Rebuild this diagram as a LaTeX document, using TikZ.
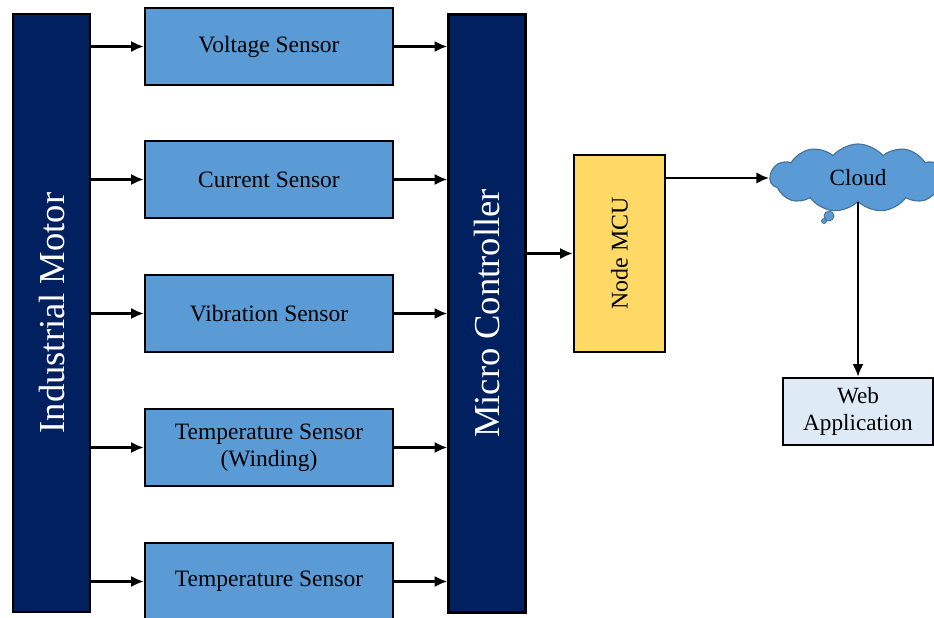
\documentclass[tikz,border=0pt]{standalone}
\usepackage{fontspec}
\setmainfont{Liberation Serif}
\usetikzlibrary{shapes.symbols,arrows.meta}

\definecolor{navy}{HTML}{002060}
\definecolor{sensorblue}{HTML}{5B9BD5}
\definecolor{cloudedge}{HTML}{41719C}
\definecolor{mcuyellow}{HTML}{FFD966}
\definecolor{webblue}{HTML}{DEEBF7}

\tikzset{
  bigbar/.style={draw=black, line width=1.8pt, fill=navy, text=white, rotate=90,
    minimum width=14.95cm, minimum height=1.925cm, font=\fontsize{26}{30}\selectfont},
  sensor/.style={draw=black, line width=1.8pt, fill=sensorblue, align=center,
    minimum width=6.2cm, minimum height=1.925cm, font=\fontsize{16.7}{19}\selectfont},
  link/.style={->, line width=1.6pt, >={Latex[length=9pt,width=8pt]}}
}

\begin{document}
\begin{tikzpicture}[x=0.025cm, y=-0.025cm]
\useasboundingbox (0,0) rectangle (934,618);
\node[bigbar] (motor) at (51.5, 313) {Industrial Motor};
\node[bigbar] (mc) at (487, 313.5) {Micro Controller};

\node[sensor] (volt) at (269, 46.5) {Voltage Sensor};
\node[sensor] (curr) at (269, 179.5) {Current Sensor};
\node[sensor] (vib) at (269, 313.5) {Vibration Sensor};
\node[sensor] (tempw) at (269, 447.5) {Temperature Sensor\\(Winding)};
\node[sensor] (temp) at (269, 581.5) {Temperature Sensor};

\node[draw=black, line width=1.8pt, fill=mcuyellow, rotate=90, minimum width=4.925cm,
  minimum height=2.275cm, font=\fontsize{17}{19}\selectfont] (nodemcu) at (619.5, 253.5) {Node MCU};
\node[cloud, cloud puffs=11, cloud puff arc=100, cloud ignores aspect, draw=cloudedge, line width=0.8pt,
  fill=sensorblue, minimum width=4.4cm, minimum height=1.7cm,
  font=\fontsize{16.5}{19}\selectfont] (cloud) at (858, 178) {Cloud};
\fill[sensorblue, draw=cloudedge, line width=0.6pt] (829, 216) circle (5);
\fill[sensorblue, draw=cloudedge, line width=0.6pt] (824, 221) circle (2.5);
\node[draw=black, line width=1.8pt, fill=webblue, align=center, minimum width=3.75cm,
  minimum height=1.675cm, font=\fontsize{16.5}{19}\selectfont] (web) at (858, 411.5) {Web\\Application};

\draw[link] (volt -| motor.south) -- (volt);
\draw[link] (curr -| motor.south) -- (curr);
\draw[link] (vib -| motor.south) -- (vib);
\draw[link] (tempw -| motor.south) -- (tempw);
\draw[link] (temp -| motor.south) -- (temp);
\draw[link] (volt) -- (volt -| mc.north);
\draw[link] (curr) -- (curr -| mc.north);
\draw[link] (vib) -- (vib -| mc.north);
\draw[link] (tempw) -- (tempw -| mc.north);
\draw[link] (temp) -- (temp -| mc.north);
\draw[link] (nodemcu -| mc.south) -- (nodemcu.north);
\draw[link] (cloud.west -| nodemcu.south) -- (cloud.west);
\draw[link] (cloud.south -| web) -- (web.north);
\end{tikzpicture}
\end{document}
